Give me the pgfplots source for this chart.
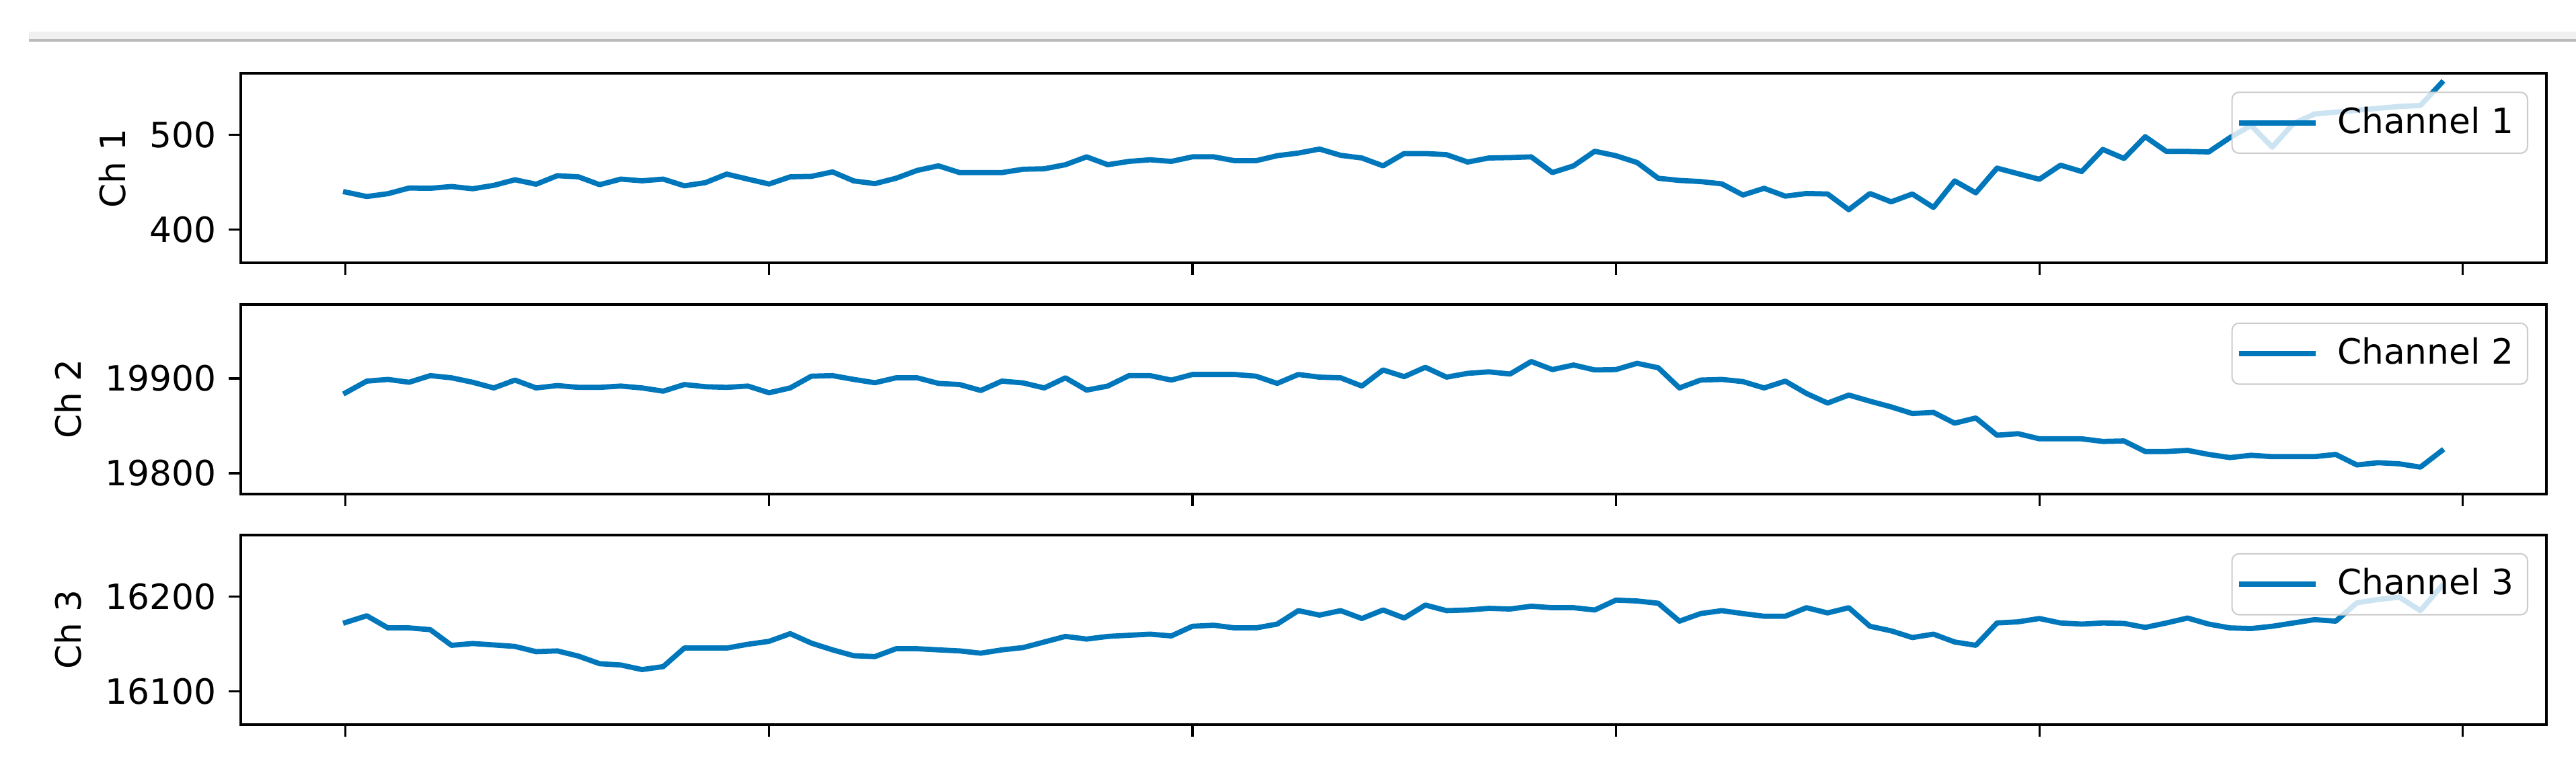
\documentclass[border=0pt]{standalone}
\usepackage{fontspec}
\setmainfont{DejaVu Sans}
\usepackage{pgfplots}
\usepackage{pgfplotstable}
\pgfplotsset{compat=1.18}
\definecolor{chblue}{RGB}{0,119,187}

\pgfplotstableread{
i ch1 ch2 ch3
0 439.6 19884.9 16172.6
1 434.9 19897.2 16179.7
2 437.9 19899.0 16166.9
3 443.9 19896.0 16166.9
4 443.6 19903.0 16165.0
5 445.5 19900.7 16148.5
6 443.1 19896.0 16150.4
7 446.7 19890.0 16148.9
8 452.6 19898.3 16147.3
9 447.9 19890.0 16141.8
10 456.9 19892.5 16142.6
11 455.7 19890.6 16137.1
12 447.4 19890.6 16129.1
13 453.3 19892.0 16127.7
14 451.5 19890.0 16122.9
15 453.3 19886.6 16126.0
16 446.2 19893.6 16145.6
17 449.6 19891.3 16145.6
18 458.6 19890.6 16145.6
19 453.3 19892.0 16149.6
20 448.1 19884.9 16152.7
21 455.7 19890.0 16160.8
22 456.2 19902.4 16150.8
23 460.9 19903.0 16143.7
24 451.4 19899.0 16137.5
25 448.5 19895.5 16136.6
26 454.2 19900.7 16144.9
27 462.5 19900.7 16144.9
28 467.3 19894.8 16143.7
29 460.2 19893.6 16142.6
30 460.2 19887.3 16140.2
31 460.2 19897.2 16143.7
32 463.7 19895.3 16146.1
33 464.2 19890.0 16152.0
34 468.5 19900.7 16157.9
35 476.8 19887.7 16155.1
36 468.5 19892.0 16157.9
37 472.0 19903.0 16159.1
38 473.7 19903.0 16160.3
39 472.0 19898.3 16158.4
40 476.8 19904.2 16168.6
41 476.8 19904.2 16169.7
42 472.7 19904.2 16166.9
43 472.7 19902.4 16166.9
44 478.0 19894.8 16170.9
45 480.8 19904.2 16185.1
46 485.0 19901.4 16180.4
47 478.4 19900.7 16185.1
48 475.6 19892.0 16176.8
49 467.3 19909.0 16185.8
50 480.3 19901.9 16177.3
51 480.3 19911.8 16191.0
52 479.1 19901.4 16185.1
53 471.3 19905.4 16185.8
54 475.6 19907.0 16187.5
55 476.0 19904.7 16186.8
56 476.8 19917.9 16189.8
57 460.2 19909.4 16188.2
58 467.3 19914.2 16188.2
59 482.7 19909.0 16185.8
60 478.0 19909.4 16196.2
61 470.8 19916.0 16195.3
62 454.2 19911.3 16192.9
63 451.9 19890.0 16174.0
64 450.7 19898.3 16182.0
65 448.3 19899.0 16185.1
66 436.5 19896.7 16182.0
67 443.6 19890.0 16179.2
68 435.3 19897.2 16179.2
69 438.1 19884.2 16188.2
70 437.6 19874.0 16182.7
71 421.0 19882.5 16188.2
72 438.1 19876.0 16168.6
73 429.3 19870.0 16163.8
74 437.6 19863.0 16156.7
75 423.4 19864.2 16160.3
76 451.4 19852.8 16152.0
77 438.8 19858.3 16148.5
78 464.9 19840.1 16172.1
79 459.0 19841.7 16173.3
80 453.1 19836.3 16176.8
81 468.0 19836.3 16172.1
82 461.3 19836.3 16170.9
83 484.6 19833.5 16172.1
84 475.1 19834.0 16171.6
85 498.1 19822.9 16167.4
86 482.5 19822.9 16172.1
87 482.5 19824.1 16177.3
88 482.0 19819.8 16170.9
89 497.0 19816.5 16166.9
90 510.0 19818.9 16166.2
91 487.0 19817.5 16168.6
92 512.0 19817.5 16172.1
93 522.0 19817.5 16175.6
94 524.0 19819.8 16174.0
95 526.0 19808.7 16193.4
96 528.0 19811.1 16196.9
97 530.0 19809.9 16199.3
98 531.0 19806.4 16185.1
99 555.0 19823.6 16211.0
}\channels

\pgfplotsset{
  chpanel/.style={
    scale only axis, width=661.6pt, height=54.4pt,
    xmin=-4.95, xmax=103.95,
    xtick={0,20,...,100}, xticklabels={},
    xtick pos=left, ytick pos=left,
    tick align=outside, major tick length=3.5pt,
    tick style={black, line width=0.6pt},
    axis line style={line width=0.8pt},
    scaled y ticks=false,
    /pgf/number format/assume math mode=true,
    /pgf/number format/1000 sep={},
    tick label style={font=\fontsize{10}{12}\selectfont},
    label style={font=\fontsize{10}{12}\selectfont},
    legend style={at={(1,1)}, anchor=north east, xshift=-5.2pt, yshift=-5.2pt,
      draw=black!20, rounded corners=2pt, fill=white, fill opacity=0.8,
      text opacity=1, font=\fontsize{10}{12}\selectfont,
      inner xsep=2pt, inner ysep=2.2pt,
      /tikz/every odd column/.append style={column sep=4.2pt}},
    legend image code/.code={\draw[#1] (0.75pt,0pt) -- (21.25pt,0pt);},
  },
  chline/.style={chblue, line width=1.5pt, line join=round, line cap=rect},
}

\begin{document}
\begin{tikzpicture}
\useasboundingbox (0,0) rectangle (739.2pt,-221.2pt);
% the grey strip above the figure
\fill[black!6] (8.3pt,-9.0pt) rectangle (739.2pt,-11.25pt);
\fill[black!27] (8.3pt,-11.25pt) rectangle (739.2pt,-11.9pt);

\begin{axis}[chpanel, at={(69.1pt,-21.1pt)}, anchor=north west,
  ymin=364.8, ymax=564.8, ytick={400,500}, ylabel={Ch 1}]
  \addplot[chline] table[x=i, y=ch1] {\channels};
  \addlegendentry{Channel 1}
\end{axis}

\begin{axis}[chpanel, at={(69.1pt,-87.4pt)}, anchor=north west,
  ymin=19778.2, ymax=19978.2, ytick={19800,19900}, ylabel={Ch 2}]
  \addplot[chline] table[x=i, y=ch2] {\channels};
  \addlegendentry{Channel 2}
\end{axis}

\begin{axis}[chpanel, at={(69.1pt,-153.6pt)}, anchor=north west,
  ymin=16065, ymax=16265, ytick={16100,16200}, ylabel={Ch 3}]
  \addplot[chline] table[x=i, y=ch3] {\channels};
  \addlegendentry{Channel 3}
\end{axis}
\end{tikzpicture}
\end{document}
